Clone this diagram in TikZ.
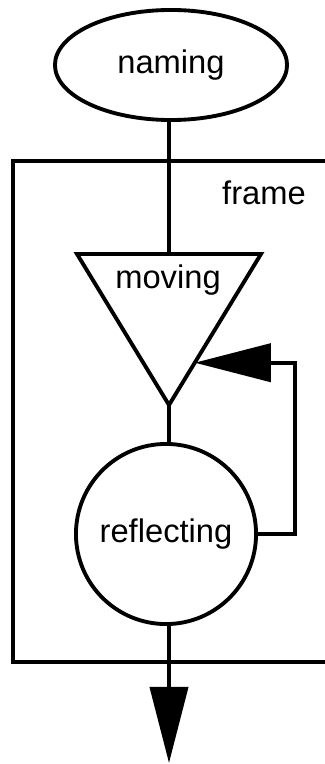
\documentclass[tikz,border=0pt]{standalone}
\usepackage{fontspec}
\setmainfont{Liberation Sans}
\usetikzlibrary{shapes, arrows.meta, positioning, calc}

\begin{document}
\begin{tikzpicture}[
    x=0.01cm, y=-0.01cm,
    font=\fontsize{9.3}{11}\selectfont,
    line width=1.1pt,
    start/.style={ellipse, draw, minimum width=2.32cm, minimum height=1.1cm, inner sep=0pt},
    reflect/.style={circle, draw, minimum size=1.8cm, inner sep=0pt},
    label/.style={inner sep=0pt},
    arrow/.style={-{Triangle[length=0.76cm, width=0.38cm]}}
]
\useasboundingbox (0,0) rectangle (325,764);
\clip (0,0) rectangle (325,764);

% Frame
\draw (13,161) rectangle (330,662);
\node[label] (frame) at (264,193) {frame};

% Nodes
\node[start] (naming) at (171,65) {naming};
\coordinate (tri_left) at (77,254);
\coordinate (tri_right) at (261,254);
\coordinate (tri_tip) at (169,405);
\coordinate (tri_top) at ($(tri_left)!0.5!(tri_right)$);
\draw (tri_left) -- (tri_right) -- (tri_tip) -- cycle;
\node[label] (moving) at (168,280) {moving};
\node[reflect] (reflecting) at (166,534) {reflecting};

% Connections
\coordinate (feedback) at ($(tri_right)!0.72!(tri_tip)$);
\coordinate (loop) at (295,0);
\coordinate (out) at (169,763);

\draw (naming.south -| tri_top) -- (tri_top);
\draw (tri_tip) -- (reflecting.north -| tri_tip);
\draw[arrow] (reflecting.east) -- (reflecting.east -| loop) |- (feedback);
\draw[arrow] (reflecting.south -| out) -- (out);

\end{tikzpicture}
\end{document}
